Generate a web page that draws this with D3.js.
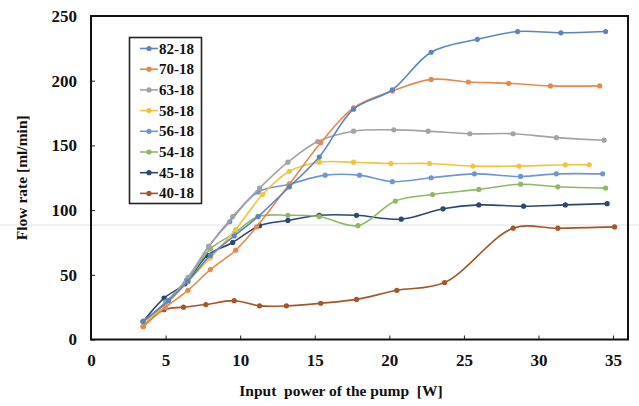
<!DOCTYPE html>
<html>
<head>
<meta charset="utf-8">
<script src="https://cdn.jsdelivr.net/npm/d3@7"></script>
<style>
  body { margin: 0; background: #fff; }
</style>
</head>
<body>
<div id="chart"></div>
<script>
// series: [input power W, flow rate ml/min]
const s82_18 = [[3.5,14],[5.2,30],[6.5,45],[8,65],[9.6,80],[11.2,95],[13.3,118],[15.3,141],[17.6,178],[20.2,193],[22.8,222],[25.9,232],[28.6,238],[31.5,237],[34.5,238]];
const s70_18 = [[3.5,10],[5,25],[6.5,38],[8,54],[9.7,69],[11.1,87],[13.3,120],[15.4,152],[17.6,179],[20.2,192],[22.8,201],[25.3,199],[28,198],[30.8,196],[34.1,196]];
const s63_18 = [[3.5,14],[5,29],[6.5,48],[7.9,72],[9.5,95],[11.3,117],[13.2,137],[15.2,153],[17.6,161],[20.3,162],[22.6,161],[25.4,159],[28.3,159],[31.2,156],[34.4,154]];
const s58_18 = [[3.5,13],[5,27],[6.5,45],[8,63],[9.7,85],[11.5,112],[13.3,130],[15.3,137],[17.6,137],[20.1,136],[22.7,136],[25.6,134],[28.7,134],[31.8,135],[33.4,135]];
const s56_18 = [[3.5,14],[5,28],[6.4,46],[7.9,72],[9.3,91],[11.2,114],[13.3,120],[15.7,127],[18,127],[20.2,122],[22.8,125],[25.7,128],[28.8,126],[31.2,128],[34.3,128]];
const s54_18 = [[3.5,13],[5,27],[6.4,45],[8,70],[9.6,82],[11.2,95],[13.2,96],[15.3,95],[17.9,88],[20.4,107],[22.9,112],[26,116],[28.8,120],[31.3,118],[34.5,117]];
const s45_18 = [[3.5,14],[4.9,32],[6.3,43],[7.8,65],[9.5,75],[11.3,88],[13.2,92],[15.3,96],[17.8,96],[20.8,93],[23.6,101],[26,104],[29,103],[31.8,104],[34.6,105]];
const s40_18 = [[3.5,10],[4.9,23],[6.2,25],[7.7,27],[9.6,30],[11.3,26],[13.1,26],[15.4,28],[17.8,31],[20.5,38],[23.7,44],[28.3,86],[31.3,86],[35.1,87]];

const seriesNames = ["82-18", "70-18", "63-18", "58-18", "56-18", "54-18", "45-18", "40-18"];
const seriesData = [s82_18, s70_18, s63_18, s58_18, s56_18, s54_18, s45_18, s40_18];
const seriesColors = ["#5a84c4", "#e58a4e", "#a3a3a3", "#f3c33c", "#6e96d6", "#8fb866", "#2b4775", "#a55526"];

const xTicks = [0, 5, 10, 15, 20, 25, 30, 35];
const yTicks = [0, 50, 100, 150, 200, 250];

const width = 639, height = 406;
const serif = "'Liberation Serif', 'DejaVu Serif', serif";

const svg = d3.select("#chart").append("svg")
  .attr("width", width)
  .attr("height", height);

svg.append("rect").attr("width", width).attr("height", height).attr("fill", "#fff");

const x = d3.scaleLinear().domain([0, 36]).range([91, 628]);
const y = d3.scaleLinear().domain([0, 250]).range([339.5, 16]);

// faint scan line that crosses the original picture
svg.append("line")
  .attr("x1", 0).attr("x2", width)
  .attr("y1", 225).attr("y2", 225)
  .attr("stroke", "#e2e2e2").attr("stroke-width", 1);

// axes, ticks pointing inside
const xAxis = svg.append("g")
  .attr("transform", "translate(0," + y(0) + ")")
  .call(d3.axisBottom(x).tickValues(xTicks).tickSizeInner(-4).tickSizeOuter(0).tickPadding(14));
xAxis.attr("font-family", serif);
xAxis.select(".domain").remove();
xAxis.selectAll("text")
  .style("font-family", serif).style("font-weight", "bold").style("font-size", "17px")
  .attr("fill", "#111");
xAxis.selectAll("line").attr("stroke", "#222");

const yAxis = svg.append("g")
  .attr("transform", "translate(" + x(0) + ",0)")
  .call(d3.axisLeft(y).tickValues(yTicks).tickSizeInner(-4).tickSizeOuter(0).tickPadding(14));
yAxis.attr("font-family", serif);
yAxis.select(".domain").remove();
yAxis.selectAll("text")
  .style("font-family", serif).style("font-weight", "bold").style("font-size", "17px")
  .attr("fill", "#111");
yAxis.selectAll("line").attr("stroke", "#222");

// plot frame
svg.append("rect")
  .attr("x", x(0)).attr("y", y(250))
  .attr("width", x(36) - x(0)).attr("height", y(0) - y(250))
  .attr("fill", "none").attr("stroke", "#111").attr("stroke-width", 2);

const line = d3.line()
  .x(d => x(d[0]))
  .y(d => y(d[1]))
  .curve(d3.curveCatmullRom);

// draw last series first so 82-18 sits on top
const order = d3.range(seriesData.length).reverse();
order.forEach(i => {
  const g = svg.append("g");
  g.append("path")
    .datum(seriesData[i])
    .attr("d", line)
    .attr("fill", "none")
    .attr("stroke", seriesColors[i])
    .attr("stroke-width", 1.6);
  g.selectAll("circle")
    .data(seriesData[i])
    .enter().append("circle")
    .attr("cx", d => x(d[0]))
    .attr("cy", d => y(d[1]))
    .attr("r", 2.6)
    .attr("fill", seriesColors[i]);
});

// legend
const legend = svg.append("g");
legend.append("rect")
  .attr("x", 129.5).attr("y", 37.5)
  .attr("width", 72).attr("height", 166)
  .attr("fill", "#fff").attr("stroke", "#222").attr("stroke-width", 1.6);

seriesNames.forEach((name, i) => {
  const ly = 48.5 + i * 20.7;
  legend.append("line")
    .attr("x1", 140).attr("x2", 158)
    .attr("y1", ly).attr("y2", ly)
    .attr("stroke", seriesColors[i]).attr("stroke-width", 1.6);
  legend.append("circle")
    .attr("cx", 149).attr("cy", ly).attr("r", 2.6)
    .attr("fill", seriesColors[i]);
  legend.append("text")
    .attr("x", 159).attr("y", ly)
    .attr("dominant-baseline", "central")
    .style("font-family", serif).style("font-weight", "bold")
    .style("font-size", "15px").attr("fill", "#111")
    .text(name);
});

// axis titles
svg.append("text")
  .attr("transform", "translate(21," + ((y(0) + y(250)) / 2) + ") rotate(-90)")
  .attr("text-anchor", "middle")
  .attr("dominant-baseline", "central")
  .style("font-family", serif).style("font-weight", "bold")
  .style("font-size", "15.5px").attr("fill", "#111")
  .text("Flow rate [ml/min]");

svg.append("text")
  .attr("x", 341).attr("y", 396)
  .attr("text-anchor", "middle")
  .style("font-family", serif).style("font-weight", "bold")
  .style("font-size", "15.5px").attr("fill", "#111")
  .style("white-space", "pre")
  .text("Input  power of the pump  [W]");
</script>
</body>
</html>
